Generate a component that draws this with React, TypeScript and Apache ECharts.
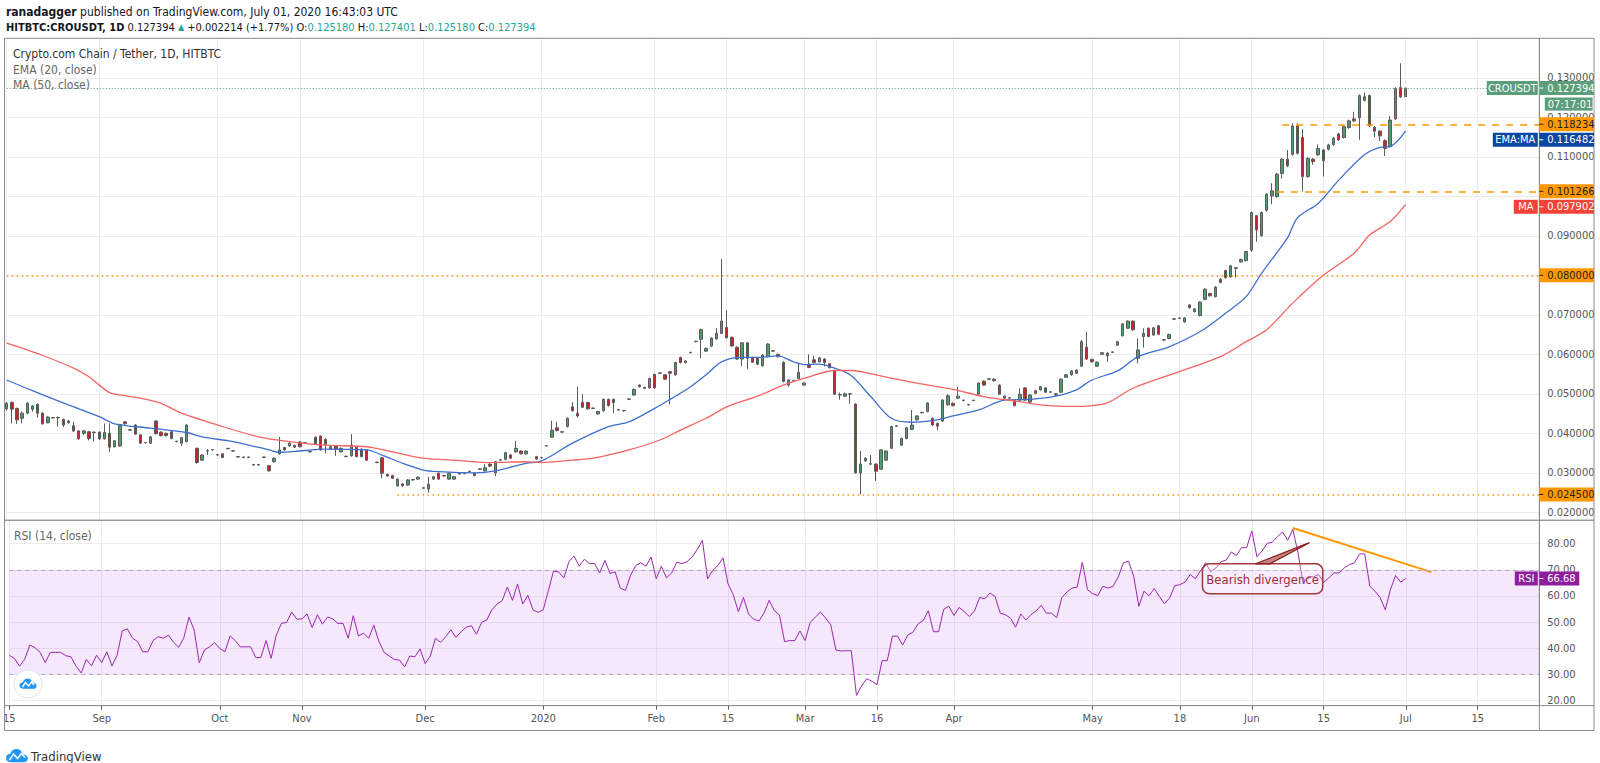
import React, { useEffect, useRef } from "react";
import * as echarts from "echarts";

// ---------------- data ----------------
const slotCount = 299; // bar slots on the time axis (incl. empty future slots)
const tickLabels: [number, string][] = [
  [0, "15"], [18, "Sep"], [41, "Oct"], [57, "Nov"], [81, "Dec"], [104, "2020"],
  [126, "Feb"], [140, "15"], [155, "Mar"], [169, "16"], [184, "Apr"], [211, "May"],
  [228, "18"], [242, "Jun"], [256, "15"], [272, "Jul"], [286, "15"],
];
const priceTicks = [0.02, 0.03, 0.04, 0.05, 0.06, 0.07, 0.08, 0.09, 0.1, 0.11, 0.12, 0.13];
const rsiTicks = [20, 30, 40, 50, 60, 70, 80];

// [open, close, low, high]
const candles: ([number, number, number, number] | null)[] = [
  [0.0462, 0.0476, 0.0458, 0.0479], [0.0478, 0.0461, 0.0425, 0.0481], [0.0463, 0.0434, 0.0424, 0.0465],
  [0.0438, 0.0451, 0.0425, 0.0455], [0.0451, 0.0476, 0.0448, 0.0479], [0.0461, 0.0469, 0.0455, 0.0472],
  [0.0473, 0.0451, 0.044, 0.0476], [0.0451, 0.0424, 0.0422, 0.0453], [0.0427, 0.0441, 0.0425, 0.0443],
  [0.044, 0.0439, 0.0437, 0.0441], [0.0439, 0.044, 0.0417, 0.0443], [0.0435, 0.0421, 0.0416, 0.0437],
  [0.0427, 0.0431, 0.0424, 0.0434], [0.0419, 0.0406, 0.0404, 0.0429], [0.0406, 0.0386, 0.0384, 0.0408],
  [0.04, 0.0406, 0.0396, 0.0408], [0.0404, 0.0387, 0.0382, 0.0406], [0.0403, 0.0402, 0.0379, 0.0405],
  [0.0403, 0.0386, 0.0383, 0.0405], [0.0386, 0.0402, 0.0384, 0.0425], [0.04, 0.0365, 0.0353, 0.0425],
  [0.0366, 0.0381, 0.0364, 0.0383], [0.0368, 0.0422, 0.0366, 0.0424], [0.0429, 0.0424, 0.0422, 0.0431],
  [0.0409, 0.0408, 0.0406, 0.0411], [0.0421, 0.0398, 0.0396, 0.0423], [0.0396, 0.0375, 0.0373, 0.0398],
  [0.0377, 0.0376, 0.0374, 0.0378], [0.0375, 0.0391, 0.0373, 0.0393], [0.0431, 0.0399, 0.0397, 0.0433],
  [0.0403, 0.0394, 0.0392, 0.0405], [0.04, 0.0394, 0.0392, 0.0402], [0.0404, 0.0387, 0.0385, 0.0406],
  [0.038, 0.0379, 0.0377, 0.0381], [0.0375, 0.0389, 0.0368, 0.0391], [0.0379, 0.0421, 0.0377, 0.0423],
  null, [0.0362, 0.0326, 0.0323, 0.0364], [0.0332, 0.0345, 0.033, 0.0347],
  [0.0355, 0.0356, 0.0345, 0.036], [0.0358, 0.0359, 0.0356, 0.036], [0.0346, 0.0345, 0.0343, 0.0347],
  [0.0348, 0.0339, 0.0337, 0.035], [0.0362, 0.0361, 0.0359, 0.0363], [0.0355, 0.0356, 0.0353, 0.0357],
  [0.034, 0.0341, 0.0338, 0.0342], [0.0339, 0.034, 0.0337, 0.0341], [0.034, 0.0339, 0.0337, 0.0341],
  [0.032, 0.0321, 0.0318, 0.0322], [0.0321, 0.032, 0.0318, 0.0322], [0.0339, 0.034, 0.0337, 0.0341],
  [0.0318, 0.0305, 0.0303, 0.032], [0.0328, 0.0337, 0.0326, 0.0339], [0.0348, 0.0358, 0.0346, 0.0391],
  [0.0364, 0.0358, 0.0356, 0.0366], [0.0368, 0.0375, 0.0366, 0.0377], [0.0369, 0.0365, 0.0363, 0.0371],
  [0.0378, 0.0366, 0.0364, 0.038], [0.0375, 0.0376, 0.0373, 0.0377], [0.0354, 0.0353, 0.0351, 0.0355],
  [0.039, 0.0373, 0.0371, 0.0392], [0.0393, 0.0358, 0.0356, 0.0395], [0.0385, 0.0372, 0.0349, 0.0387],
  [0.036, 0.0366, 0.0358, 0.0368], [0.0368, 0.036, 0.0343, 0.037], [0.0353, 0.0362, 0.0351, 0.0364],
  [0.0341, 0.0342, 0.0339, 0.0343], [0.0343, 0.037, 0.0341, 0.0398], [0.0365, 0.0341, 0.0339, 0.0367],
  [0.036, 0.0341, 0.0339, 0.0362], [0.0358, 0.0332, 0.033, 0.036], null,
  [0.0327, 0.0326, 0.0324, 0.0328], [0.0338, 0.0299, 0.0286, 0.034], [0.0296, 0.0292, 0.029, 0.0298],
  [0.0293, 0.0286, 0.0284, 0.0295], [0.0267, 0.0284, 0.0265, 0.0286], [0.0272, 0.0267, 0.0265, 0.0274],
  [0.0269, 0.0282, 0.0267, 0.0284], [0.0282, 0.0283, 0.028, 0.0284], [0.0284, 0.0289, 0.0282, 0.0291],
  [0.0261, 0.0262, 0.0259, 0.0263], [0.0259, 0.0271, 0.025, 0.029], [0.0284, 0.029, 0.0282, 0.0292],
  [0.0299, 0.0284, 0.0282, 0.0301], [0.0292, 0.0293, 0.029, 0.0294], [0.0284, 0.0299, 0.0282, 0.0301],
  [0.0284, 0.029, 0.0282, 0.0292], [0.0297, 0.0298, 0.0295, 0.0299], [0.0298, 0.0299, 0.0296, 0.03],
  [0.0303, 0.0304, 0.0301, 0.0305], [0.0299, 0.0293, 0.0291, 0.0301], [0.0309, 0.031, 0.0307, 0.0311],
  [0.0305, 0.0313, 0.0303, 0.0322], [0.0322, 0.0317, 0.0315, 0.0324], [0.03, 0.0328, 0.0292, 0.033],
  [0.0332, 0.0333, 0.033, 0.0334], [0.0334, 0.0351, 0.0332, 0.0353], [0.0345, 0.0337, 0.0335, 0.0347],
  [0.0353, 0.0362, 0.0351, 0.0381], [0.0355, 0.0348, 0.0346, 0.0357], [0.0348, 0.0355, 0.0346, 0.0357],
  null, [0.0341, 0.0335, 0.0333, 0.0343], [0.0338, 0.0339, 0.0336, 0.034],
  [0.0368, 0.0369, 0.0366, 0.037], [0.039, 0.0408, 0.0388, 0.0432], [0.0414, 0.0407, 0.0405, 0.0429],
  [0.0403, 0.0404, 0.0401, 0.0405], [0.0417, 0.0438, 0.0415, 0.044], [0.0467, 0.0457, 0.0455, 0.0479],
  [0.0451, 0.0444, 0.044, 0.0518], [0.0478, 0.0466, 0.0464, 0.0499], [0.0478, 0.0462, 0.046, 0.048],
  [0.0463, 0.0464, 0.0461, 0.0465], [0.0449, 0.0455, 0.0447, 0.0457], [0.0457, 0.0486, 0.0455, 0.0488],
  [0.0486, 0.047, 0.0468, 0.0488], [0.0486, 0.0478, 0.0451, 0.0488], [0.0459, 0.046, 0.0457, 0.0461],
  [0.0457, 0.0458, 0.0455, 0.0459], [0.0486, 0.0487, 0.0484, 0.0488], [0.0497, 0.0511, 0.0495, 0.0513],
  [0.0522, 0.0518, 0.0516, 0.0524], [0.0516, 0.0514, 0.0512, 0.0518], [0.0515, 0.0539, 0.0513, 0.0541],
  [0.0549, 0.0515, 0.0513, 0.0551], [0.0552, 0.0553, 0.055, 0.0554], [0.0548, 0.0537, 0.0535, 0.055],
  [0.0556, 0.0552, 0.0473, 0.0558], [0.0548, 0.0579, 0.0546, 0.0581], [0.0592, 0.0579, 0.0577, 0.0594],
  [0.0579, 0.0583, 0.0577, 0.0585], [0.0604, 0.0605, 0.0602, 0.0606], [0.0632, 0.0633, 0.063, 0.0634],
  [0.0638, 0.0663, 0.059, 0.0665], [0.0608, 0.0615, 0.0606, 0.0617], [0.0621, 0.0641, 0.0619, 0.0643],
  [0.0639, 0.0653, 0.0637, 0.0666], [0.0653, 0.0684, 0.0651, 0.0841], [0.0668, 0.0642, 0.064, 0.0711],
  [0.0643, 0.0621, 0.0619, 0.0645], [0.0618, 0.0588, 0.0586, 0.062], [0.0588, 0.0629, 0.057, 0.0631],
  [0.0629, 0.059, 0.0563, 0.0631], [0.0592, 0.058, 0.0578, 0.0594], [0.059, 0.0575, 0.0573, 0.0592],
  [0.0571, 0.0598, 0.0569, 0.06], [0.0594, 0.0626, 0.0592, 0.0628], [0.0608, 0.0609, 0.0606, 0.061],
  [0.06, 0.0594, 0.0592, 0.0602], [0.058, 0.0531, 0.0529, 0.0582], [0.0522, 0.0535, 0.0518, 0.0537],
  [0.0533, 0.0534, 0.0531, 0.0535], [0.0539, 0.0554, 0.0537, 0.0579], [0.0522, 0.0527, 0.052, 0.0529],
  [0.0575, 0.0567, 0.0565, 0.06], [0.0586, 0.0579, 0.0577, 0.0596], [0.0581, 0.0591, 0.0579, 0.0593],
  [0.0588, 0.0579, 0.0569, 0.059], [0.0576, 0.0566, 0.0564, 0.0578], [0.0559, 0.0499, 0.0497, 0.0561],
  [0.0497, 0.0498, 0.0485, 0.0503], [0.0494, 0.05, 0.0492, 0.0503], [0.05, 0.0499, 0.0475, 0.0502],
  [0.0474, 0.03, 0.0298, 0.0476], [0.03, 0.0322, 0.0245, 0.0355], [0.033, 0.0337, 0.0328, 0.0339],
  [0.0322, 0.0323, 0.032, 0.0345], [0.0322, 0.0304, 0.0279, 0.0324], [0.0309, 0.0358, 0.0307, 0.036],
  [0.0332, 0.0355, 0.033, 0.0357], [0.0362, 0.0417, 0.036, 0.0419], [0.0418, 0.0419, 0.0416, 0.042],
  [0.037, 0.0387, 0.0368, 0.0389], [0.0387, 0.0414, 0.0385, 0.0416], [0.041, 0.0421, 0.0408, 0.0459],
  [0.0434, 0.0444, 0.0432, 0.0446], [0.0452, 0.0453, 0.045, 0.0454], [0.0455, 0.0477, 0.0453, 0.0479],
  [0.0438, 0.0421, 0.0419, 0.044], [0.0425, 0.0418, 0.0408, 0.0427], [0.0431, 0.0484, 0.0429, 0.0486],
  [0.0472, 0.0495, 0.047, 0.0499], [0.0476, 0.047, 0.0468, 0.0478], [0.0489, 0.0494, 0.0487, 0.0518],
  [0.0483, 0.0484, 0.0481, 0.0485], [0.0472, 0.0473, 0.047, 0.0474], [0.0483, 0.0484, 0.0481, 0.0485],
  [0.0499, 0.0527, 0.0497, 0.0529], [0.0532, 0.0522, 0.052, 0.0534], [0.0537, 0.0538, 0.0535, 0.0539],
  [0.0537, 0.0533, 0.0531, 0.0539], [0.0522, 0.0499, 0.0497, 0.0524], [0.0489, 0.0494, 0.0487, 0.0496],
  [0.0489, 0.049, 0.0487, 0.0491], [0.0484, 0.047, 0.0468, 0.0486], [0.0484, 0.0499, 0.0482, 0.0514],
  [0.0515, 0.0484, 0.0482, 0.0517], [0.0479, 0.0497, 0.0477, 0.0499], [0.0501, 0.0508, 0.0499, 0.051],
  [0.051, 0.0518, 0.0508, 0.052], [0.0515, 0.0504, 0.0502, 0.0517], [0.0504, 0.0505, 0.0502, 0.0506],
  [0.0497, 0.05, 0.0495, 0.0502], [0.0504, 0.0537, 0.0502, 0.0539], [0.0542, 0.0548, 0.054, 0.055],
  [0.0548, 0.0558, 0.0546, 0.056], [0.0552, 0.056, 0.055, 0.0562], [0.057, 0.0632, 0.0568, 0.0636],
  [0.0618, 0.0588, 0.0586, 0.0657], [0.0587, 0.0581, 0.0579, 0.0589], [0.057, 0.058, 0.0568, 0.0582],
  [0.06, 0.0604, 0.0598, 0.0606], [0.0596, 0.0603, 0.0581, 0.0605], [0.0605, 0.0606, 0.0603, 0.0607],
  [0.0623, 0.0632, 0.0621, 0.0634], [0.0647, 0.0677, 0.0645, 0.0679], [0.0666, 0.0684, 0.0664, 0.0686],
  [0.0684, 0.0662, 0.066, 0.0686], [0.059, 0.0611, 0.0577, 0.064], [0.0645, 0.0653, 0.0617, 0.0666],
  [0.0666, 0.0645, 0.0643, 0.0668], [0.0649, 0.0667, 0.0647, 0.0669], [0.0672, 0.0651, 0.0649, 0.0674],
  [0.0636, 0.0637, 0.0633, 0.0638], [0.064, 0.065, 0.0638, 0.0652], [0.0689, 0.069, 0.0687, 0.0691],
  [0.0691, 0.0692, 0.0689, 0.0693], [0.0682, 0.0692, 0.068, 0.0694], [0.0725, 0.0718, 0.0716, 0.0727],
  [0.0708, 0.0715, 0.0706, 0.0717], [0.0698, 0.0732, 0.0696, 0.0734], [0.0739, 0.0765, 0.0737, 0.0767],
  [0.0754, 0.0748, 0.0746, 0.0756], [0.0746, 0.077, 0.0744, 0.0773], [0.079, 0.0782, 0.078, 0.0792],
  [0.0812, 0.0794, 0.0792, 0.0814], [0.0796, 0.0824, 0.0794, 0.0826], [0.0818, 0.0819, 0.0794, 0.0821],
  [0.0834, 0.084, 0.0832, 0.0842], [0.0837, 0.086, 0.0835, 0.0862], [0.0864, 0.0959, 0.0859, 0.0961],
  [0.0951, 0.0915, 0.0885, 0.0953], [0.09, 0.0959, 0.0898, 0.0961], [0.0965, 0.1005, 0.0961, 0.1008],
  [0.1001, 0.1014, 0.098, 0.1033], [0.0999, 0.1056, 0.0997, 0.1059], [0.1058, 0.1094, 0.1045, 0.1097],
  [0.1094, 0.1077, 0.1074, 0.1117], [0.1106, 0.1178, 0.1103, 0.1185], [0.1178, 0.1109, 0.1106, 0.1185],
  [0.1149, 0.105, 0.1012, 0.117], [0.105, 0.1096, 0.1047, 0.1099], [0.1094, 0.1088, 0.108, 0.1097],
  [0.1105, 0.1121, 0.1102, 0.1131], [0.1117, 0.109, 0.105, 0.112], [0.1119, 0.113, 0.1116, 0.1133],
  [0.1131, 0.1147, 0.1128, 0.115], [0.1158, 0.1143, 0.114, 0.1161], [0.1149, 0.1176, 0.1146, 0.1179],
  [0.1174, 0.1191, 0.1171, 0.1194], [0.1196, 0.1191, 0.1188, 0.1214], [0.1199, 0.1255, 0.1143, 0.1258],
  [0.1243, 0.1252, 0.124, 0.1263], [0.1255, 0.1178, 0.1175, 0.1258], [0.1175, 0.1165, 0.115, 0.1178],
  [0.1165, 0.1153, 0.114, 0.1168], [0.1141, 0.1121, 0.1102, 0.1144], [0.1126, 0.1193, 0.1123, 0.1203],
  [0.1196, 0.1273, 0.1193, 0.1276], [0.1275, 0.1252, 0.1249, 0.1337], [0.1252, 0.1274, 0.1252, 0.1274],
];

const emaPoints: [number, number][] = [
  [0, 0.0535], [5, 0.0508], [12, 0.0472], [18, 0.0442], [21, 0.0424], [28, 0.0413], [35, 0.0402],
  [38, 0.0391], [44, 0.0379], [51, 0.0358], [53, 0.0352], [56, 0.0354], [62, 0.036], [70, 0.0358],
  [73, 0.0345], [77, 0.0324], [81, 0.0307], [84, 0.0303], [91, 0.03], [95, 0.0305], [101, 0.0324],
  [104, 0.033], [110, 0.0375], [117, 0.0417], [121, 0.0429], [126, 0.0463], [129, 0.0486], [133, 0.0518],
  [136, 0.0548], [139, 0.0581], [143, 0.0592], [146, 0.0592], [150, 0.0596], [153, 0.0581], [155, 0.0574],
  [158, 0.0575], [160, 0.0569], [164, 0.0548], [168, 0.0493], [172, 0.0438], [176, 0.0428], [181, 0.0434],
  [184, 0.0444], [189, 0.0459], [194, 0.0484], [199, 0.0486], [204, 0.0494], [208, 0.051], [211, 0.0535],
  [216, 0.0558], [220, 0.0594], [226, 0.0619], [232, 0.0657], [237, 0.0704], [241, 0.0746], [244, 0.0805],
  [249, 0.0894], [251, 0.0946], [255, 0.0982], [259, 0.1041], [264, 0.1105], [267, 0.1124], [269, 0.1126],
  [272, 0.1165],
];
const maPoints: [number, number][] = [
  [0, 0.0628], [7, 0.0597], [13, 0.0565], [16, 0.0543], [18, 0.0522], [20, 0.0503], [22, 0.0497],
  [26, 0.0489], [30, 0.0476], [34, 0.0451], [41, 0.0421], [49, 0.0391], [55, 0.0379], [62, 0.037],
  [70, 0.0366], [75, 0.0353], [81, 0.0337], [88, 0.0331], [94, 0.0326], [101, 0.0328], [104, 0.0326],
  [110, 0.0332], [114, 0.0337], [121, 0.0358], [127, 0.0383], [131, 0.0408], [136, 0.0438], [140, 0.0467],
  [146, 0.0494], [151, 0.0522], [156, 0.0543], [161, 0.0559], [164, 0.0559], [171, 0.0542], [177, 0.0527],
  [184, 0.0511], [190, 0.0493], [197, 0.048], [201, 0.0472], [207, 0.0468], [210, 0.0469], [214, 0.0477],
  [219, 0.0514], [228, 0.0556], [236, 0.0594], [241, 0.0632], [245, 0.0662], [250, 0.0729], [256, 0.08],
  [262, 0.0856], [265, 0.0902], [269, 0.0936], [272, 0.0979],
];
const rsiValues: number[] = [
  37.3, 36.0, 33.1, 35.7, 41.2, 40.2, 38.4, 34.5, 38.4, 38.4,
  38.4, 37.1, 36.7, 33.1, 30.5, 35.7, 33.2, 37.3, 34.5, 38.6,
  33.2, 37.3, 46.6, 47.4, 43.8, 42.5, 38.6, 38.6, 42.9, 44.4,
  43.8, 45.0, 42.2, 40.3, 44.0, 51.9, 47.0, 34.4, 39.3, 40.5,
  42.1, 39.9, 38.6, 44.7, 42.9, 40.5, 40.5, 40.5, 36.4, 36.4,
  42.9, 36.1, 45.0, 49.5, 49.8, 53.8, 51.1, 51.2, 53.1, 47.9,
  52.8, 49.2, 51.9, 51.2, 49.5, 49.5, 43.8, 52.4, 44.7, 45.7,
  43.8, 48.8, 42.5, 38.4, 37.0, 35.7, 35.4, 32.8, 37.0, 36.7,
  39.7, 34.1, 37.0, 43.8, 42.2, 44.4, 47.0, 44.1, 46.3, 48.0,
  48.6, 45.3, 49.9, 50.8, 54.7, 56.9, 58.2, 63.4, 58.3, 64.6,
  56.9, 60.2, 54.7, 53.7, 54.7, 62.1, 69.5, 69.2, 66.9, 73.1,
  75.3, 71.4, 74.0, 72.4, 72.4, 68.8, 73.6, 68.6, 69.2, 63.0,
  62.1, 67.9, 71.6, 72.7, 71.4, 74.9, 66.6, 71.4, 66.9, 68.8,
  72.9, 72.4, 73.1, 74.9, 77.8, 81.3, 66.5, 69.8, 71.6, 74.6,
  64.6, 60.5, 54.0, 59.4, 53.0, 51.1, 50.4, 53.4, 58.3, 54.4,
  52.7, 42.5, 42.9, 42.9, 46.6, 42.9, 49.9, 51.9, 53.8, 51.5,
  48.9, 39.3, 38.9, 39.0, 39.0, 21.9, 25.5, 28.3, 27.3, 26.0,
  35.2, 35.2, 44.6, 44.6, 41.2, 45.0, 46.1, 49.3, 50.6, 54.3,
  46.3, 46.3, 54.9, 56.0, 52.5, 55.6, 54.0, 52.1, 54.3, 59.4,
  58.9, 61.1, 59.8, 53.4, 52.8, 51.5, 48.0, 53.1, 50.8, 52.8,
  54.3, 56.4, 53.4, 53.4, 51.7, 59.4, 61.5, 63.0, 63.4, 72.9,
  62.4, 60.9, 60.1, 63.7, 63.0, 63.7, 67.3, 72.7, 73.3, 67.5,
  56.0, 61.8, 60.1, 62.8, 59.8, 57.0, 59.2, 63.9, 64.3, 65.3,
  68.2, 66.6, 69.5, 72.7, 69.2, 70.7, 73.1, 73.7, 76.8, 75.5,
  78.5, 78.5, 84.9, 75.0, 77.2, 80.1, 80.6, 82.7, 84.5, 81.3,
  85.5, 76.5, 64.7, 67.5, 67.3, 68.2, 65.2, 66.9, 68.8, 68.8,
  70.7, 72.0, 72.7, 76.1, 76.1, 63.7, 61.8, 59.4, 54.7, 62.4,
  67.8, 65.3, 66.68,
];
const divergenceLine: [number, number][] = [[250, 86.0], [277, 69.1]];
const lastPrice = 0.127394;
const lastEma = 0.116482;
const lastMa = 0.097902;
const lastRsi = 66.68;
const dashedLevels: [number, number][] = [[248, 0.118234], [247, 0.101266]]; // [start bar, price]
const dottedLevels: [number, number][] = [[0, 0.08], [76, 0.0245]];
// callout annotation anchors (bar index, RSI value)
const calloutBox = { from: 232.5, to: 255.9, top: 72.3, bottom: 60.8 };
const calloutTail: [number, number][] = [[242.8, 72.3], [253.3, 80.4], [245.6, 72.3]];

// ---------------- styling ----------------
const FONT = '"Liberation Sans Narrow", "DejaVu Sans Condensed", Roboto, sans-serif';
const GRID = "#ececec";
const FRAME = "#8c8c8c";
const ORANGE = "#ff9800";
const GREEN_LBL = "#5b9e7b";

echarts.graphic.registerShape(
  "tvlogo",
  echarts.graphic.extendPath(
    "M5 14 C2 14 0 12 0 9.5 C0 7 2 5 4.5 5 C5.5 2 8 0 11 0 C14.5 0 17 2.5 17.5 5.5 C20.5 5.5 23 7.5 23 10 C23 12.5 21 14 18.5 14 Z",
    {}
  ) as any
);

const tickMap = new Map<number, string>(tickLabels);
const isTick = (idx: number) => tickMap.has(idx);
const cats = Array.from({ length: slotCount }, (_, i) => String(i));
// axis labels fully covered by a price-tag box are not drawn
const boxedPrices = [lastPrice, lastEma, lastMa, ...dashedLevels.map((d) => d[1]), ...dottedLevels.map((d) => d[1])];

function buildOption(): any {
  const stripe = (period: number, at: number) =>
    Array.from({ length: period }, (_, k) => (k === at ? GRID : "transparent"));
  const levelLine = (start: number, v: number, style: any) => [
    { coord: [start, v], lineStyle: style },
    { coord: [slotCount - 1, v], lineStyle: style },
  ];
  return {
    animation: false,
    backgroundColor: "#ffffff",
    textStyle: { fontFamily: FONT },
    grid: [
      { left: 6.7, top: 38.3, width: 1532.6, height: 481.9 },
      { left: 6.7, top: 520.2, width: 1532.6, height: 185.4 },
    ],
    xAxis: [
      {
        type: "category", gridIndex: 0, data: cats, boundaryGap: false,
        axisLine: { show: false }, axisTick: { show: false }, axisLabel: { show: false },
        splitLine: { show: true, interval: isTick, lineStyle: { color: GRID } },
      },
      {
        type: "category", gridIndex: 1, data: cats, boundaryGap: false,
        axisLine: { show: true, lineStyle: { color: FRAME } },
        axisTick: { show: true, interval: isTick, length: 4, lineStyle: { color: "#555" } },
        axisLabel: {
          interval: isTick, formatter: (v: string) => tickMap.get(Number(v)) ?? "",
          color: "#555", fontSize: 11, margin: 7,
        },
        splitLine: { show: true, interval: isTick, lineStyle: { color: GRID } },
      },
    ],
    yAxis: [
      {
        type: "value", gridIndex: 0, position: "right", min: 0.018, max: 0.14, interval: 0.002,
        axisLine: { show: true, lineStyle: { color: FRAME } }, axisTick: { show: false },
        axisLabel: {
          color: "#555", fontSize: 11, margin: 8,
          formatter: (v: number) => {
            const t = priceTicks.find((p) => Math.abs(p - v) < 1e-7);
            if (t === undefined) return "";
            if (boxedPrices.some((b) => Math.abs(b - t) < 0.0015)) return "";
            return t.toFixed(6);
          },
        },
        splitLine: { show: true, lineStyle: { color: stripe(5, 1) } },
      },
      {
        type: "value", gridIndex: 1, position: "right", min: 18, max: 89, interval: 1,
        axisLine: { show: true, lineStyle: { color: FRAME } }, axisTick: { show: false },
        axisLabel: {
          color: "#555", fontSize: 11, margin: 8,
          formatter: (v: number) => {
            const t = rsiTicks.find((p) => Math.abs(p - v) < 1e-7);
            return t === undefined ? "" : t.toFixed(2);
          },
        },
        splitLine: { show: true, lineStyle: { color: stripe(10, 2) } },
      },
    ],
    series: [
      {
        type: "candlestick", xAxisIndex: 0, yAxisIndex: 0, barWidth: 3,
        data: candles.map((c) => (c ? c : "-")),
        itemStyle: {
          color: "#4f9c6c", color0: "#c2262b",
          borderColor: "#5a5a5a", borderColor0: "#5a5a5a", borderColorDoji: "#5a5a5a", borderWidth: 1,
        },
        markLine: {
          silent: true, symbol: ["none", "none"], label: { show: false }, animation: false,
          data: [
            levelLine(0, lastPrice, { color: GREEN_LBL, type: [1, 2], width: 1 }),
            ...dashedLevels.map(([s, v]) => levelLine(s, v, { color: ORANGE, type: [7, 7], width: 1.6 })),
            ...dottedLevels.map(([s, v]) => levelLine(s, v, { color: ORANGE, type: [1.5, 3.5], width: 1.6 })),
          ],
        },
      },
      {
        type: "line", name: "EMA", xAxisIndex: 0, yAxisIndex: 0, data: emaPoints, smooth: 0.3,
        symbol: "none", lineStyle: { color: "#3d6fcc", width: 1.3 }, z: 3,
      },
      {
        type: "line", name: "MA", xAxisIndex: 0, yAxisIndex: 0, data: maPoints, smooth: 0.3,
        symbol: "none", lineStyle: { color: "#f46464", width: 1.3 }, z: 3,
      },
      {
        type: "line", name: "RSI", xAxisIndex: 1, yAxisIndex: 1, data: rsiValues,
        symbol: "none", lineStyle: { color: "#9c27b0", width: 1 }, z: 3,
        markArea: {
          silent: true, itemStyle: { color: "rgba(170,60,230,0.12)" },
          data: [[{ yAxis: 70 }, { yAxis: 30 }]],
        },
        markLine: {
          silent: true, symbol: ["none", "none"], label: { show: false },
          lineStyle: { color: "#b3a3c0", type: [4, 4], width: 1 },
          data: [{ yAxis: 70 }, { yAxis: 30 }],
        },
      },
      {
        type: "line", xAxisIndex: 1, yAxisIndex: 1, data: divergenceLine,
        symbol: "none", lineStyle: { color: "#ff9800", width: 2 }, z: 4,
      },
    ],
  };
}

function buildGraphics(chart: any): any[] {
  const g: any[] = [];
  const Z = 100;
  const p0 = chart.convertToPixel({ gridIndex: 0 }, [0, 0.05]);
  const p1 = chart.convertToPixel({ gridIndex: 0 }, [1, 0.05]);
  const step = p1[0] - p0[0];
  const bx = (i: number) => p0[0] + i * step;
  const py = (v: number) => chart.convertToPixel({ gridIndex: 0 }, [0, v])[1];
  const ry = (v: number) => chart.convertToPixel({ gridIndex: 1 }, [0, v])[1];
  const ax = bx(slotCount - 1);
  const topY = py(0.14), sepY = py(0.018), botY = ry(18);
  const L = 4.5, R = 1594, B = 730.5;
  const ln = (x1: number, y1: number, x2: number, y2: number, stroke = FRAME, w = 1) =>
    g.push({ type: "line", shape: { x1, y1, x2, y2 }, style: { stroke, lineWidth: w }, z: Z, silent: true });
  const txt = (x: number, y: number, text: string, fill: string, size: number, align = "left", weight = "normal") =>
    g.push({
      type: "text", x, y, z: Z + 2, silent: true,
      style: { text, fill, font: `${weight} ${size}px ${FONT}`, textAlign: align, textVerticalAlign: "middle" },
    });

  // frame
  ln(L, topY, R, topY); ln(L, topY, L, B); ln(R, topY, R, B); ln(L, B, R, B);
  ln(L, sepY, R, sepY, "#6f6f6f"); ln(L, botY, R, botY); ln(ax, topY, ax, B);

  // header
  const f12 = `12px ${FONT}`;
  const f11 = `11px ${FONT}`;
  g.push({
    type: "text", x: 6, y: 12, z: Z, silent: true,
    style: {
      text: "{b|ranadagger}{n| published on TradingView.com, July 01, 2020 16:43:03 UTC}",
      textVerticalAlign: "middle", font: f12,
      rich: { b: { font: `bold 12px ${FONT}`, fill: "#131722" }, n: { font: f12, fill: "#131722" } },
    },
  });
  g.push({
    type: "text", x: 6, y: 27, z: Z, silent: true,
    style: {
      text: "{s|HITBTC:CROUSDT, 1D}{n| 0.127394 }{g|▲}{n| +0.002214 (+1.77%) O:}{t|0.125180}{n| H:}{t|0.127401}{n| L:}{t|0.125180}{n| C:}{t|0.127394}",
      textVerticalAlign: "middle", font: f11,
      rich: {
        s: { font: `bold 11px ${FONT}`, fill: "#131722" },
        n: { font: f11, fill: "#131722" },
        g: { font: `9px ${FONT}`, fill: "#26a69a" },
        t: { font: f11, fill: "#26a69a" },
      },
    },
  });

  // pane legends
  txt(13, 54, "Crypto.com Chain / Tether, 1D, HITBTC", "#333", 12);
  txt(13, 70, "EMA (20, close)", "#666", 12);
  txt(13, 85, "MA (50, close)", "#666", 12);
  txt(14, 536, "RSI (14, close)", "#666", 12);

  // price-axis labels with overlap avoidance
  type Lbl = { y: number; text: string; fill: string; color: string; tag?: string; tagW?: number; extraBelow?: number };
  const lbls: Lbl[] = [
    { y: py(lastPrice), text: lastPrice.toFixed(6), fill: GREEN_LBL, color: "#fff", tag: "CROUSDT", tagW: 51, extraBelow: 16 },
    { y: py(dashedLevels[0][1]), text: dashedLevels[0][1].toFixed(6), fill: ORANGE, color: "#222" },
    { y: py(lastEma), text: lastEma.toFixed(6), fill: "#0d47a1", color: "#fff", tag: "EMA:MA", tagW: 45 },
    { y: py(dashedLevels[1][1]), text: dashedLevels[1][1].toFixed(6), fill: ORANGE, color: "#222" },
    { y: py(lastMa), text: lastMa.toFixed(6), fill: "#f44336", color: "#fff", tag: "MA", tagW: 24 },
    { y: py(dottedLevels[0][1]), text: dottedLevels[0][1].toFixed(6), fill: ORANGE, color: "#222" },
    { y: py(dottedLevels[1][1]), text: dottedLevels[1][1].toFixed(6), fill: ORANGE, color: "#222" },
  ].sort((a, b) => a.y - b.y);
  let floor = -1e9;
  const H = 14;
  const box = (y: number, text: string, fill: string, color: string) => {
    g.push({ type: "rect", shape: { x: ax, y: y - H / 2, width: R - ax, height: H }, style: { fill }, z: Z + 1, silent: true });
    ln(ax, y, ax + 4, y, color, 1);
    g[g.length - 1].z = Z + 2;
    txt(ax + 8, y, text, color, 11);
  };
  const tag = (y: number, text: string, w: number, fill: string, color: string) => {
    g.push({ type: "rect", shape: { x: ax - 1.5 - w, y: y - H / 2, width: w, height: H }, style: { fill }, z: Z + 1, silent: true });
    txt(ax - 1.5 - w / 2, y, text, color, 11, "center");
  };
  for (const l of lbls) {
    const y = Math.max(l.y, floor + H + 1.5);
    box(y, l.text, l.fill, l.color);
    if (l.tag) tag(y, l.tag, l.tagW!, l.fill, l.color);
    floor = y;
    if (l.extraBelow) {
      const ty = y + l.extraBelow;
      g.push({
        type: "rect", shape: { x: ax + 5, y: ty - 7, width: R - ax - 6, height: 14 },
        style: { fill: l.fill, stroke: "rgba(255,255,255,0.9)", lineWidth: 1 }, z: Z + 1, silent: true,
      });
      txt(ax + 8.5, ty, "07:17:01", "#fff", 11);
      floor = ty;
    }
  }
  // RSI label
  const yr = ry(lastRsi);
  g.push({ type: "rect", shape: { x: ax, y: yr - 7, width: 40, height: 14 }, style: { fill: "#8e1e9e" }, z: Z + 1, silent: true });
  ln(ax, yr, ax + 4, yr, "#fff", 1);
  g[g.length - 1].z = Z + 2;
  txt(ax + 8, yr, lastRsi.toFixed(2), "#fff", 11);
  tag(yr, "RSI", 23, "#8e1e9e", "#fff");

  // callout "Bearish divergence"
  const cx1 = bx(calloutBox.from), cx2 = bx(calloutBox.to);
  const cy1 = ry(calloutBox.top), cy2 = ry(calloutBox.bottom);
  g.push({
    type: "rect", shape: { x: cx1, y: cy1, width: cx2 - cx1, height: cy2 - cy1, r: 7 },
    style: { fill: "rgba(255,255,255,0.25)", stroke: "#a33a3a", lineWidth: 1.5 }, z: Z, silent: true,
  });
  g.push({
    type: "polygon", shape: { points: calloutTail.map(([i, v]) => [bx(i), ry(v)]) },
    style: { fill: "rgba(150,30,30,0.55)", stroke: "#8b1f1f", lineWidth: 1.2 }, z: Z, silent: true,
  });
  txt((cx1 + cx2) / 2, (cy1 + cy2) / 2 + 0.5, "Bearish divergence", "#a52a3a", 13, "center");

  // TradingView bubble in RSI pane
  g.push({ type: "circle", shape: { cx: 28, cy: 684, r: 14 }, style: { fill: "#fff", stroke: "#e3e3e3", lineWidth: 1 }, z: Z, silent: true });
  g.push({ type: "tvlogo", x: 19.5, y: 678.5, scaleX: 0.74, scaleY: 0.74, style: { fill: "#2196f3" }, z: Z + 1, silent: true });
  g.push({
    type: "polyline", shape: { points: [[22.5, 687], [25.5, 682.5], [28.5, 686], [31.5, 682], [34, 685]] },
    style: { stroke: "#fff", lineWidth: 1.4, fill: null }, z: Z + 2, silent: true,
  });

  // brand at the bottom
  g.push({ type: "tvlogo", x: 6, y: 749, scaleX: 0.95, scaleY: 0.95, style: { fill: "#2196f3" }, z: Z + 1, silent: true });
  g.push({
    type: "polyline", shape: { points: [[9.5, 760], [13.5, 754], [17.5, 758.5], [21.5, 753.5], [25, 757.5]] },
    style: { stroke: "#fff", lineWidth: 1.6, fill: null }, z: Z + 2, silent: true,
  });
  txt(31, 756, "TradingView", "#333", 13);
  return g;
}

export default function App() {
  const ref = useRef<HTMLDivElement>(null);
  useEffect(() => {
    const el = ref.current;
    if (!el) return;
    const chart = echarts.init(el, null, { renderer: "svg" });
    chart.setOption(buildOption());
    chart.setOption({ graphic: buildGraphics(chart) });
    return () => chart.dispose();
  }, []);
  return (
    <div
      ref={ref}
      style={{ position: "fixed", left: 0, top: 0, width: 1600, height: 763, background: "#fff" }}
    />
  );
}
